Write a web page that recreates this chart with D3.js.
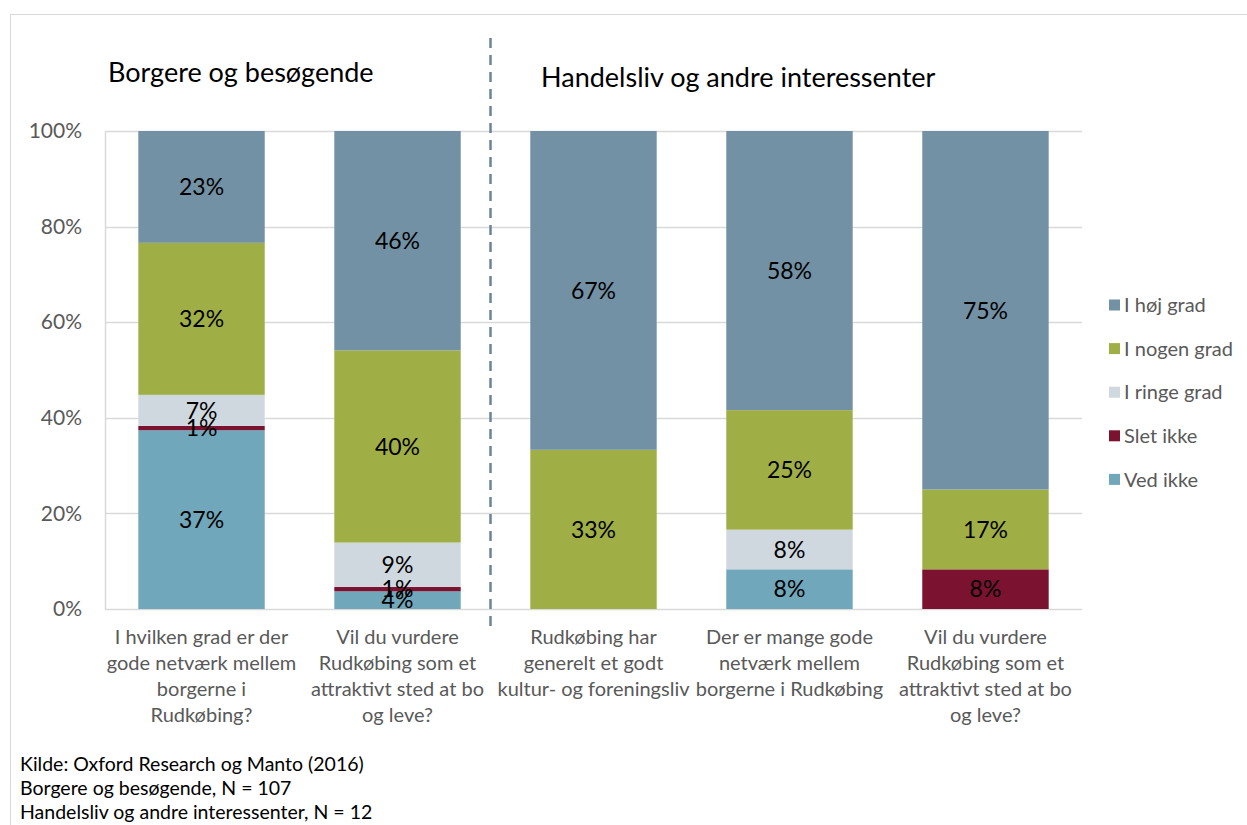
<!DOCTYPE html>
<html>
<head>
<meta charset="utf-8">
<script src="https://cdn.jsdelivr.net/npm/d3@7"></script>
<style>
  body { margin: 0; background: #fff; }
  svg { display: block; font-family: Lato, "Open Sans", sans-serif; }
</style>
</head>
<body>
<div id="chart"></div>
<script>
// categories (lines of each axis label)
const categories = [
    ["I hvilken grad er der", "gode netværk mellem", "borgerne i", "Rudkøbing?"],
    ["Vil du vurdere", "Rudkøbing som et", "attraktivt sted at bo", "og leve?"],
    ["Rudkøbing har", "generelt et godt", "kultur- og foreningsliv"],
    ["Der er mange gode", "netværk mellem", "borgerne i Rudkøbing"],
    ["Vil du vurdere", "Rudkøbing som et", "attraktivt sted at bo", "og leve?"]
];
const seriesNames = ["Ved ikke", "Slet ikke", "I ringe grad", "I nogen grad", "I høj grad"];
const vedIkke   = [37.4, 3.7, 0, 8.3, 0];
const sletIkke  = [0.9, 0.9, 0, 0, 8.3];
const iRinge    = [6.5, 9.3, 0, 8.3, 0];
const iNogen    = [31.8, 40.2, 33.3, 25, 16.7];
const iHoej     = [23.4, 45.9, 66.7, 58.4, 75];
const groupTitles = ["Borgere og besøgende", "Handelsliv og andre interessenter"];
const yTicks = [0, 20, 40, 60, 80, 100];
const footnotes = [
    "Kilde: Oxford Research og Manto (2016)",
    "Borgere og besøgende, N = 107",
    "Handelsliv og andre interessenter, N = 12"
];

const colors = {
    "Ved ikke": "#70a7ba",
    "Slet ikke": "#7b1230",
    "I ringe grad": "#d0d8df",
    "I nogen grad": "#a0af45",
    "I høj grad": "#7391a5"
};

const width = 1247, height = 825;
const margin = {top: 131, right: 165, bottom: 216, left: 105};

const values = [vedIkke, sletIkke, iRinge, iNogen, iHoej];
const rows = categories.map((c, i) => {
    const r = {idx: i};
    seriesNames.forEach((s, j) => r[s] = values[j][i]);
    return r;
});
const stacked = d3.stack().keys(seriesNames)(rows);

const xScale = d3.scaleBand()
    .domain(d3.range(categories.length))
    .range([margin.left, width - margin.right])
    .paddingInner(0.355)
    .paddingOuter(0.17);

const yScale = d3.scaleLinear()
    .domain([0, 100])
    .range([height - margin.bottom, margin.top]);

const svg = d3.select("#chart")
    .append("svg")
    .attr("width", width)
    .attr("height", height);

// outer frame
svg.append("rect")
    .attr("x", 10.5).attr("y", 14.5)
    .attr("width", width).attr("height", height)
    .attr("fill", "none")
    .attr("stroke", "#d9d9d9");

// grid
svg.append("g")
    .selectAll("line")
    .data(yTicks)
    .join("line")
    .attr("x1", margin.left)
    .attr("x2", width - margin.right)
    .attr("y1", (d) => Math.round(yScale(d)) + 0.5)
    .attr("y2", (d) => Math.round(yScale(d)) + 0.5)
    .attr("stroke", "#d9d9d9")
    .attr("stroke-width", 1.5);

const yAxis = (g) =>
    g.attr("transform", `translate(${margin.left},0)`)
        .call(d3.axisLeft(yScale)
            .tickValues(yTicks)
            .tickSize(0)
            .tickPadding(23)
            .tickFormat((d) => d + "%"))
        .call((g) => g.select(".domain").attr("stroke", "#d9d9d9").attr("stroke-width", 1.5))
        .call((g) => g.selectAll("text")
            .attr("fill", "#595959")
            .style("font-size", "21px")
            .style("font-family", "Lato, 'Open Sans', sans-serif"));
svg.append("g").call(yAxis);

// bars
svg.append("g")
    .selectAll("g")
    .data(stacked)
    .join("g")
    .attr("fill", (d) => colors[d.key])
    .selectAll("rect")
    .data((d) => d)
    .join("rect")
    .attr("x", (d, i) => xScale(i))
    .attr("width", xScale.bandwidth())
    .attr("y", (d) => yScale(d[1]))
    .attr("height", (d) => yScale(d[0]) - yScale(d[1]));

// value labels
const labelData = [];
stacked.forEach((s) => s.forEach((d, i) => {
    if (d[1] - d[0] > 0) labelData.push({i, mid: (d[0] + d[1]) / 2, v: d[1] - d[0]});
}));
svg.append("g")
    .selectAll("text")
    .data(labelData)
    .join("text")
    .attr("x", (d) => xScale(d.i) + xScale.bandwidth() / 2)
    .attr("y", (d) => yScale(d.mid))
    .attr("dy", "0.36em")
    .attr("text-anchor", "middle")
    .attr("fill", "#000")
    .style("font-size", "23px")
    .text((d) => Math.round(d.v) + "%");

// category labels
const catG = svg.append("g")
    .selectAll("text")
    .data(categories)
    .join("text")
    .attr("text-anchor", "middle")
    .attr("fill", "#595959")
    .style("font-size", "20px");
catG.selectAll("tspan")
    .data((d, i) => d.map((t) => ({t, i})))
    .join("tspan")
    .attr("x", (d) => xScale(d.i) + xScale.bandwidth() / 2)
    .attr("y", (d, k) => 644 + k * 26)
    .text((d) => d.t);

// dashed separator
const sepX = (xScale(1) + xScale.bandwidth() + xScale(2)) / 2 - 5;
svg.append("line")
    .attr("x1", sepX).attr("x2", sepX)
    .attr("y1", 38).attr("y2", 632)
    .attr("stroke", "#6a8599")
    .attr("stroke-width", 2.5)
    .attr("stroke-dasharray", "10,7");

// group titles
svg.append("text")
    .attr("x", 108).attr("y", 82)
    .style("font-size", "27px")
    .attr("fill", "#000")
    .text(groupTitles[0]);
svg.append("text")
    .attr("x", 541).attr("y", 87)
    .style("font-size", "27px")
    .attr("fill", "#000")
    .text(groupTitles[1]);

// legend
const legendOrder = seriesNames.slice().reverse();
const legend = svg.append("g")
    .selectAll("g")
    .data(legendOrder)
    .join("g")
    .attr("transform", (d, i) => `translate(1109,${305 + i * 43.6})`);
legend.append("rect")
    .attr("x", 0).attr("y", -5.5)
    .attr("width", 11).attr("height", 11)
    .attr("fill", (d) => colors[d]);
legend.append("text")
    .attr("x", 15)
    .attr("dy", "0.36em")
    .attr("fill", "#595959")
    .style("font-size", "20px")
    .text((d) => d);

// footnotes
svg.append("g")
    .selectAll("text")
    .data(footnotes)
    .join("text")
    .attr("x", 20)
    .attr("y", (d, i) => 771 + i * 24)
    .attr("fill", "#000")
    .style("font-size", "19.5px")
    .text((d) => d);
</script>
</body>
</html>
